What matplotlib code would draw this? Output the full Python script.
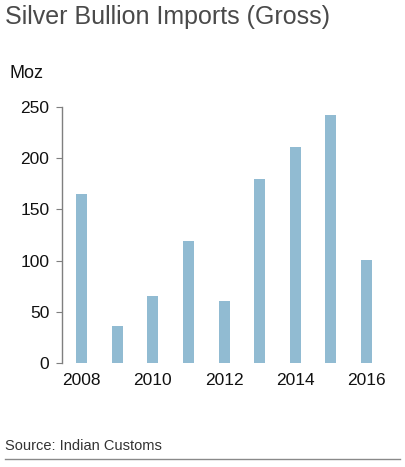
import matplotlib
matplotlib.use("Agg")
import matplotlib.pyplot as plt
from matplotlib.lines import Line2D

# Data
years = [2008, 2009, 2010, 2011, 2012, 2013, 2014, 2015, 2016]
imports_moz = [165, 36, 65, 119, 61, 180, 211, 242, 101]
tick_years = [2008, 2010, 2012, 2014, 2016]
y_ticks = [0, 50, 100, 150, 200, 250]

bar_color = '#91bbd2'
text_color = '#111111'

plt.rcParams['font.family'] = ['Liberation Sans', 'DejaVu Sans']

fig = plt.figure(figsize=(4.06, 4.67), dpi=100)
ax = fig.add_axes([62 / 406, 1 - 363 / 467, 328 / 406, 256 / 467])

ax.bar(years, imports_moz, width=0.31, color=bar_color)

ax.set_xlim(2007.45, 2016.66)
ax.set_ylim(0, 250)
ax.set_yticks(y_ticks)
ax.set_xticks(tick_years)

for side in ['top', 'right', 'bottom']:
    ax.spines[side].set_visible(False)
ax.spines['left'].set_color('#7f7f7f')
ax.spines['left'].set_linewidth(1.0)

ax.tick_params(axis='y', direction='out', length=4, color='#7f7f7f',
               labelsize=12.5, labelcolor=text_color, pad=5)
ax.tick_params(axis='x', length=0, labelsize=12.5, labelcolor=text_color, pad=7)

# Titles and notes
fig.text(5 / 406, 1 - 17 / 467, 'Silver Bullion Imports (Gross)', fontsize=18,
         color='#4a4a4a', ha='left', va='center')
fig.text(10 / 406, 1 - 74 / 467, 'Moz', fontsize=13, color=text_color,
         ha='left', va='center')
fig.text(5 / 406, 1 - 446 / 467, 'Source: Indian Customs', fontsize=10.5,
         color='#333333', ha='left', va='center')
fig.add_artist(Line2D([5 / 406, 400 / 406], [1 - 459 / 467, 1 - 459 / 467],
                      color='#8a8a8a', linewidth=1.0, transform=fig.transFigure))

fig.savefig('out.png', dpi=100)
